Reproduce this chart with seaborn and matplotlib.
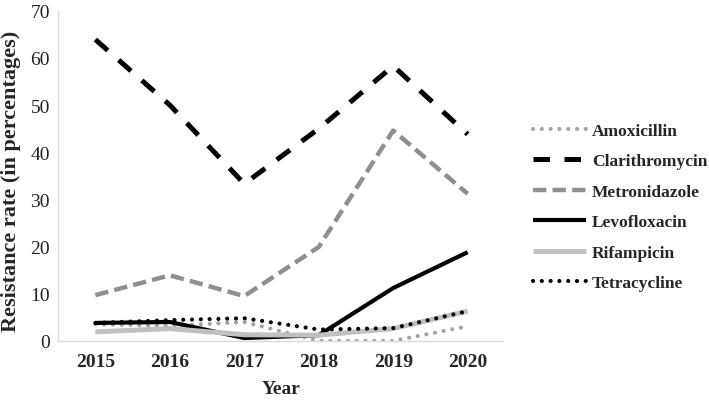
import seaborn as sns
import matplotlib.pyplot as plt
import pandas as pd

years = [2015, 2016, 2017, 2018, 2019, 2020]
amoxicillin = [3.5, 3.2, 4.0, 0.0, 0.0, 3.1]
clarithromycin = [63.9, 50.0, 33.3, 45.0, 58.3, 43.8]
metronidazole = [9.7, 13.9, 9.5, 19.9, 44.6, 31.2]
levofloxacin = [3.8, 4.0, 0.6, 1.2, 11.2, 18.8]
rifampicin = [1.9, 2.6, 1.3, 1.2, 2.6, 6.3]
tetracycline = [3.8, 4.4, 4.8, 2.4, 2.7, 6.3]

drugs = ['Amoxicillin', 'Clarithromycin', 'Metronidazole', 'Levofloxacin', 'Rifampicin', 'Tetracycline']
values = [amoxicillin, clarithromycin, metronidazole, levofloxacin, rifampicin, tetracycline]

rows = []
for d, v in zip(drugs, values):
    for y, r in zip(years, v):
        rows.append({'Year': str(y), 'Drug': d, 'Rate': r})
df = pd.DataFrame(rows)

# line look for each drug
styles = {
    'Amoxicillin':    dict(color='#a3a3a3', lw=3, ls=(0, (0.01, 2.1)), cap='round'),
    'Clarithromycin': dict(color='black', lw=3.6, ls=(0, (3.3, 2.9)), cap='butt'),
    'Metronidazole':  dict(color='#8f8f8f', lw=3.2, ls=(0, (3.0, 1.4)), cap='butt'),
    'Levofloxacin':   dict(color='black', lw=3, ls='-', cap='round'),
    'Rifampicin':     dict(color='#c0c0c0', lw=3.6, ls='-', cap='round'),
    'Tetracycline':   dict(color='black', lw=3, ls=(0, (0.01, 2.1)), cap='round'),
}

sns.set_style('white')
plt.rcParams['font.family'] = ['Liberation Serif', 'DejaVu Serif']

fig = plt.figure(figsize=(7.09, 4.06), dpi=100)
ax = fig.add_axes([0.082, 0.158, 0.628, 0.813])

for d in drugs:
    s = styles[d]
    sub = df[df['Drug'] == d]
    sns.lineplot(data=sub, x='Year', y='Rate', ax=ax, color=s['color'], linewidth=s['lw'],
                 linestyle=s['ls'], label=d, sort=False)
    ax.lines[-1].set_dash_capstyle(s['cap'])
    ax.lines[-1].set_solid_capstyle('butt')

ax.set_ylim(0, 70)
ax.set_xlim(-0.5, 5.48)
ax.set_yticks(range(0, 71, 10))
ax.tick_params(axis='y', labelsize=14, length=0, pad=6, labelcolor='#222222')
ax.tick_params(axis='x', labelsize=14, length=0, pad=9)
for t in ax.get_xticklabels():
    t.set_fontweight('bold')
ax.set_xlabel('Year', fontsize=14, fontweight='bold', labelpad=7)
ax.set_ylabel('Resistance rate (in percentages)', fontsize=16, fontweight='bold')
ax.yaxis.set_label_coords(-0.083, 0.486)

for sp in ['top', 'right']:
    ax.spines[sp].set_visible(False)
for sp in ['left', 'bottom']:
    ax.spines[sp].set_color('#d9d9d9')
    ax.spines[sp].set_linewidth(1)

leg = ax.legend(loc='center left', bbox_to_anchor=(533 / 709, 1 - 208 / 406),
                bbox_transform=fig.transFigure, frameon=False, borderpad=0, borderaxespad=0,
                prop={'weight': 'bold', 'size': 12.5}, handlelength=3.05, handletextpad=0.35,
                labelspacing=0.82)
for h, d in zip(leg.get_lines(), drugs):
    h.set_dash_capstyle(styles[d]['cap'])

fig.savefig('out.png', dpi=100)
